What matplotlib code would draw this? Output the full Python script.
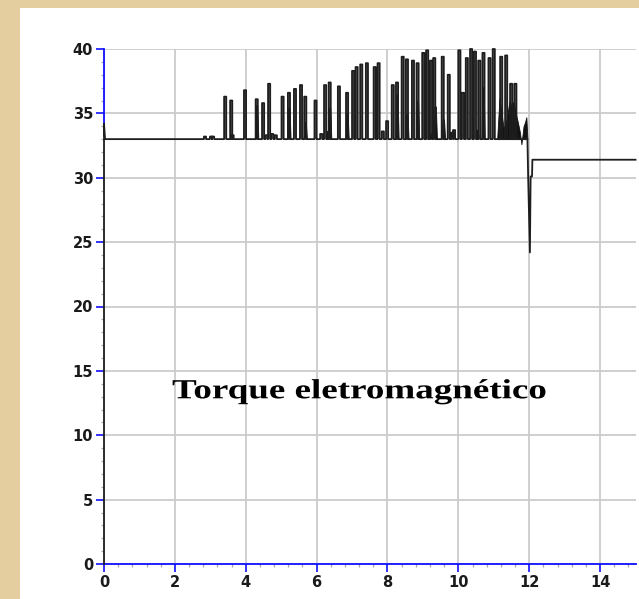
import matplotlib
matplotlib.use('Agg')
import matplotlib.pyplot as plt
from matplotlib.patches import Rectangle
from matplotlib.ticker import MultipleLocator
from matplotlib.transforms import Affine2D
from matplotlib import patheffects

# --- torque trace (time in s, torque in N.m) ---
start_t = [0.0, 0.0, 0.03]
start_v = [0.0, 34.2, 33.0]
base_level = 33.0

# tall spikes
spike_t = [3.39, 3.56, 3.95, 4.28, 4.46, 4.63, 5.01, 5.19, 5.36, 5.53, 5.65, 5.94,
           6.21, 6.34, 6.60, 6.83, 7.00, 7.10, 7.23, 7.39, 7.61, 7.72, 8.12, 8.24,
           8.40, 8.52, 8.69, 8.82, 8.98, 9.09, 9.20, 9.29, 9.53, 9.70, 10.00, 10.10,
           10.21, 10.33, 10.44, 10.56, 10.68, 10.85, 10.97, 11.18, 11.32, 11.46, 11.58]
spike_peak = [36.3, 36.0, 36.8, 36.1, 35.8, 37.3, 36.3, 36.6, 36.9, 37.2, 36.3, 36.0,
              37.2, 37.4, 37.1, 36.6, 38.3, 38.6, 38.8, 38.9, 38.6, 38.9, 37.2, 37.4,
              39.4, 39.2, 39.1, 38.9, 39.7, 39.9, 39.1, 39.3, 39.4, 38.0, 39.9, 36.6,
              39.3, 40.0, 39.8, 39.1, 39.7, 39.3, 40.0, 39.4, 39.5, 37.3, 37.3]

# small ripples
ripple_t = [2.82, 2.99, 3.05, 3.60, 4.55, 4.72, 4.82, 6.10, 7.84, 7.96, 9.80, 9.85]
ripple_peak = [33.2, 33.2, 33.2, 33.3, 33.3, 33.4, 33.3, 33.4, 33.6, 34.4, 33.5, 33.7]

# dense oscillation bursts (filled)
burst_t = [4.30, 5.21, 5.67, 6.30, 6.36, 6.85, 8.26, 8.54, 8.84, 9.05, 9.20,
           9.34, 9.57, 10.52, 10.69]
burst_h = [35.6, 35.4, 34.3, 33.6, 35.4, 35.0, 36.4, 34.9, 35.9, 33.3, 33.4,
           35.5, 34.5, 33.7, 37.0]

# final burst envelope before the load change
env_t = [11.10, 11.16, 11.22, 11.28, 11.36, 11.44, 11.50, 11.56, 11.62, 11.68,
         11.74, 11.78, 11.84, 11.88, 11.92, 11.95]
env_h = [33.2, 36.2, 35.0, 33.8, 34.5, 35.9, 35.6, 35.9, 35.0, 34.3,
         33.5, 32.6, 34.0, 34.3, 34.7, 33.0]

# transient and new steady state
tail_t = [11.95, 11.97, 12.02, 12.04, 12.08, 12.09, 15.0]
tail_v = [33.0, 30.1, 24.2, 30.1, 30.1, 31.4, 31.4]

spike_w = 0.06


class Stretch(patheffects.AbstractPathEffect):
    """Widen glyphs horizontally around the text origin."""
    def __init__(self, sx):
        super().__init__()
        self.sx = sx

    def draw_path(self, renderer, gc, tpath, affine, rgbFace=None):
        renderer.draw_path(gc, tpath, Affine2D().scale(self.sx, 1) + affine, rgbFace)


# build the line path
xs, ys = list(start_t), list(start_v)
events = sorted(zip(spike_t + ripple_t, spike_peak + ripple_peak))
for t, h in events:
    xs += [t, t, t + spike_w, t + spike_w]
    ys += [base_level, h, h, base_level]
xs += tail_t
ys += tail_v

fig = plt.figure(figsize=(6.39, 5.99), dpi=100)
fig.patch.set_facecolor('#e4cd9f')
fig.patches.append(Rectangle((20 / 639, 0), 619 / 639, 591.5 / 599,
                             transform=fig.transFigure, facecolor='white',
                             edgecolor='none', zorder=-1))

ax = fig.add_axes([104 / 639, 35 / 599, 531.5 / 639, 515 / 599])
ax.set_zorder(1)
ax.set_facecolor('white')

ax.set_xlim(0, 15)
ax.set_ylim(0, 40)

ax.xaxis.set_major_locator(MultipleLocator(2))
ax.xaxis.set_minor_locator(MultipleLocator(0.4))
ax.yaxis.set_major_locator(MultipleLocator(5))
ax.yaxis.set_minor_locator(MultipleLocator(1))

ax.grid(True, which='major', color='#cbcbcb', linewidth=1.3, zorder=0)
ax.set_axisbelow(True)

for s in ['top', 'right']:
    ax.spines[s].set_visible(False)
ax.spines['bottom'].set_color('#1010ff')
ax.spines['left'].set_color('#1010ff')
ax.spines['bottom'].set_linewidth(1.3)
ax.spines['left'].set_linewidth(1.3)
ax.spines['left'].set_bounds(34.2, 40)

ax.tick_params(which='major', length=5.8, width=1.2, color='#1010ff', pad=2,
               labelsize=10.5, labelcolor='#1a1a1a')
ax.tick_params(which='minor', length=2.3, width=0.9, color='#a8a8a8')
for lab in ax.get_xticklabels() + ax.get_yticklabels():
    lab.set_family('DejaVu Sans')
    lab.set_fontweight('bold')

# spike bodies
for t, h in events:
    ax.fill([t, t, t + spike_w, t + spike_w], [base_level, h, h, base_level],
            color='#7a7a7a', linewidth=0, zorder=3)

# burst fills
for t, h in zip(burst_t, burst_h):
    ax.fill([t - 0.02, t, t + 0.04, t + 0.07], [base_level, h, h, base_level],
            color='#111111', linewidth=0.6, zorder=3)
ax.fill_between(env_t, base_level, env_h, color='#111111', linewidth=0.6, zorder=3)

ax.plot(xs, ys, color='#1e1e1e', linewidth=1.3, zorder=4, clip_on=False)

ax.text(1.92, 12.87, 'Torque eletromagnético', family='Liberation Serif',
        fontweight='bold', fontsize=19.9, ha='left', va='baseline', zorder=5,
        path_effects=[Stretch(1.34)])

fig.savefig('out.png', dpi=100, facecolor=fig.get_facecolor())
